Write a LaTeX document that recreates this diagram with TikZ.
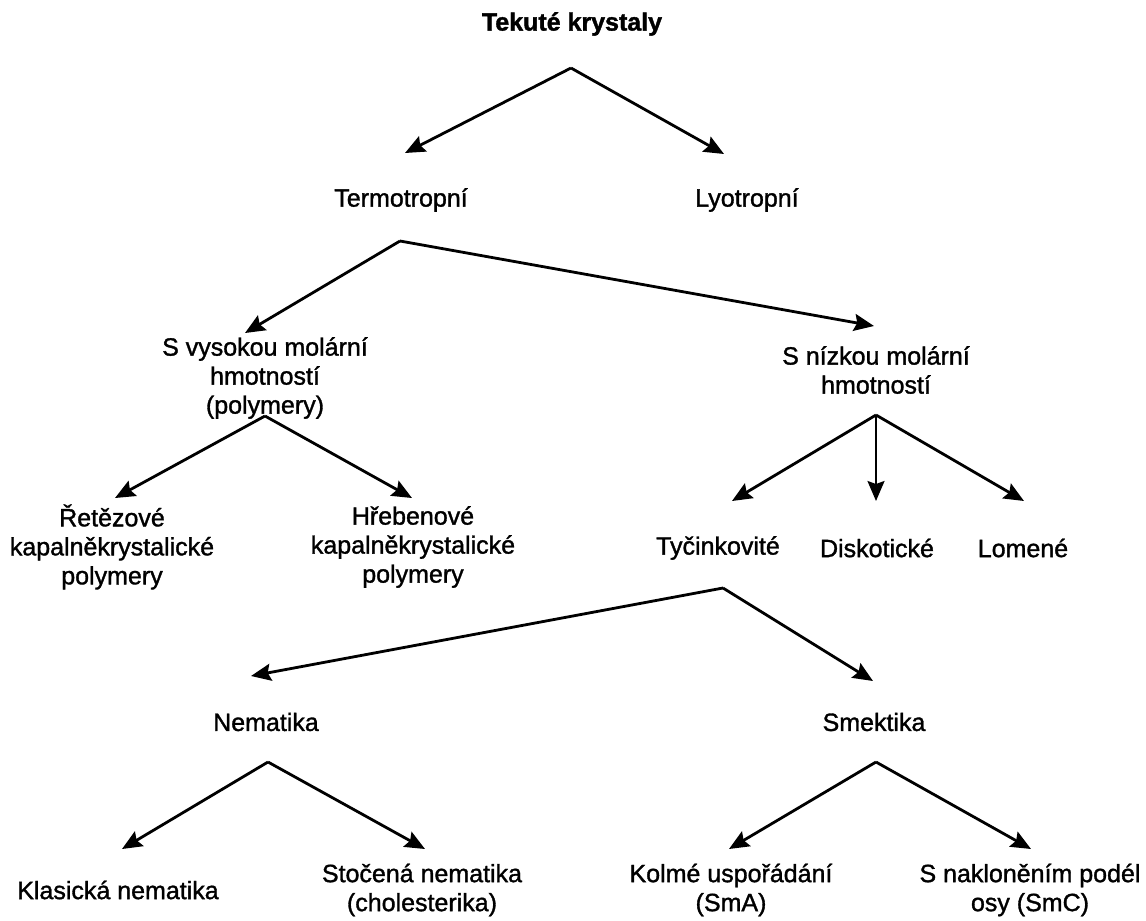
\documentclass[tikz,border=0pt]{standalone}
\usepackage{fontspec}
\setmainfont{Liberation Sans}
\newfontfamily\medfont{Liberation Sans}[FakeBold=1.3]
\newfontfamily\heavyfont{Liberation Sans Bold}[FakeBold=1.5]
\usetikzlibrary{arrows.meta}
\begin{document}
\begin{tikzpicture}[x=1pt,y=-1pt,
  lbl/.style={align=center,inner sep=0pt,font=\medfont\fontsize{25}{29}\selectfont},
  ttl/.style={align=center,inner sep=0pt,font=\heavyfont\fontsize{25}{29}\selectfont},
  arr/.style={-{Stealth[length=20pt,width=17pt,inset=3pt]},line width=2.8pt},
  arrthin/.style={-{Stealth[length=20pt,width=17pt,inset=3pt]},line width=2pt}]
\useasboundingbox (0,0) rectangle (1146,921);
% nodes
\node[ttl] (tek) at (572,24) {Tekuté krystaly};
\node[lbl] (term) at (401,200) {Termotropní};
\node[lbl] (lyo) at (747,200) {Lyotropní};
\node[lbl] (vys) at (265,378) {S vysokou molární\\hmotností\\(polymery)};
\node[lbl] (niz) at (876,370) {S nízkou molární\\hmotností};
\node[lbl] (ret) at (112,547) {Řetězové\\kapalněkrystalické\\polymery};
\node[lbl] (hreb) at (413,547) {Hřebenové\\kapalněkrystalické\\polymery};
\node[lbl] (tyc) at (718,548) {Tyčinkovité};
\node[lbl] (disk) at (877,548) {Diskotické};
\node[lbl] (lom) at (1023,548) {Lomené};
\node[lbl] (nem) at (266,722) {Nematika};
\node[lbl] (smek) at (874,722) {Smektika};
\node[lbl] (klas) at (118,890) {Klasická nematika};
\node[lbl] (stoc) at (422,890) {Stočená nematika\\(cholesterika)};
\node[lbl] (kolm) at (731,890) {Kolmé uspořádání\\(SmA)};
\node[lbl] (nakl) at (1030,890) {S nakloněním podél\\osy (SmC)};
% connector points
\coordinate (v1) at (571,68);
\coordinate (tterm) at (405,153);
\coordinate (tlyo) at (724,154);
\coordinate (v2) at (400,241);
\coordinate (tvys) at (245,333);
\coordinate (tniz) at (874,326);
\coordinate (v3) at (265,416);
\coordinate (tret) at (115,498);
\coordinate (threb) at (412,498);
\coordinate (v4) at (876,415);
\coordinate (ttyc) at (732,501);
\coordinate (tdisk) at (876,501);
\coordinate (tlom) at (1024,501);
\coordinate (v5) at (723,588);
\coordinate (tnem) at (251,676);
\coordinate (tsmek) at (873,681);
\coordinate (v6) at (268,762);
\coordinate (tklas) at (122,849);
\coordinate (tstoc) at (425,849);
\coordinate (v7) at (876,762);
\coordinate (tkolm) at (729,849);
\coordinate (tnakl) at (1031,849);
% connectors
\draw[arr] (v1) -- (tterm);
\draw[arr] (v1) -- (tlyo);
\draw[arr] (v2) -- (tvys);
\draw[arr] (v2) -- (tniz);
\draw[arr] (v3) -- (tret);
\draw[arr] (v3) -- (threb);
\draw[arr] (v4) -- (ttyc);
\draw[arrthin] (v4) -- (tdisk);
\draw[arr] (v4) -- (tlom);
\draw[arr] (v5) -- (tnem);
\draw[arr] (v5) -- (tsmek);
\draw[arr] (v6) -- (tklas);
\draw[arr] (v6) -- (tstoc);
\draw[arr] (v7) -- (tkolm);
\draw[arr] (v7) -- (tnakl);
\end{tikzpicture}
\end{document}
